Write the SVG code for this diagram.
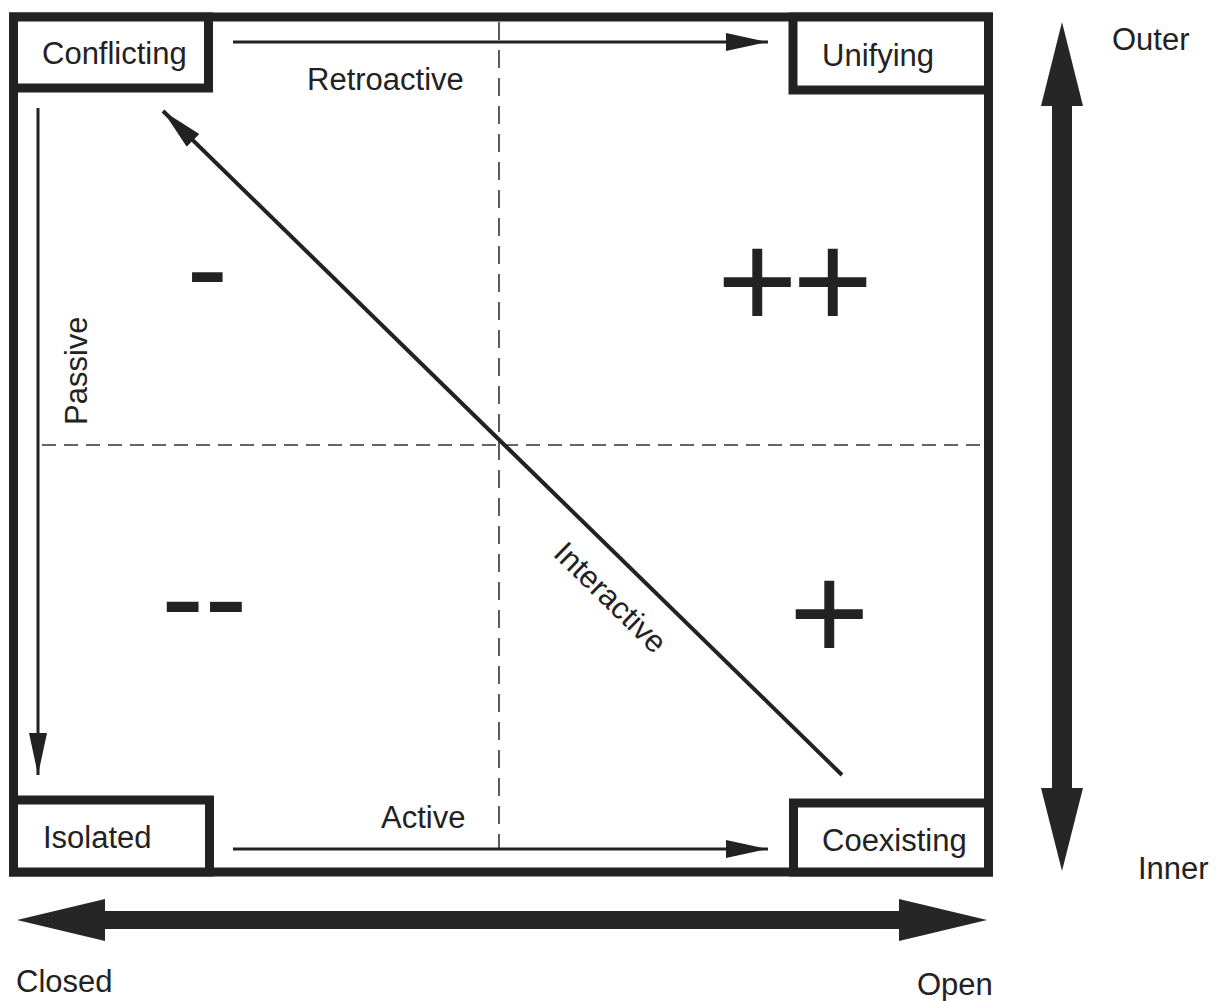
<svg xmlns="http://www.w3.org/2000/svg" width="1216" height="1001" viewBox="0 0 1216 1001">
<defs>
<style>
.box{fill:#fff;stroke:#222;stroke-width:9}
.frame{fill:none;stroke:#222;stroke-width:9}
.lbl{font-family:"Liberation Sans",Arial,sans-serif;font-size:31px;fill:#222}
.sym{font-family:"Liberation Sans",Arial,sans-serif;fill:#222}
.thin{stroke:#222;stroke-width:3;fill:none}
.diag{stroke:#222;stroke-width:4;fill:none}
.dash{stroke:#333;stroke-width:1.6;fill:none}
.big{fill:#262626}
</style>
<marker id="ah" markerUnits="userSpaceOnUse" markerWidth="44" markerHeight="20" refX="42" refY="10" orient="auto">
<path d="M0,1 L42,10 L0,19 Z" fill="#222"/>
</marker>
</defs>
<rect width="1216" height="1001" fill="#fff"/>
<g id="frame">
<rect class="frame" x="13.5" y="17" width="975" height="855"/>
</g>
<g id="quadrant-lines">
<line class="dash" x1="499" y1="22" x2="499" y2="848" stroke-dasharray="18,10"/>
<line class="dash" x1="42" y1="445" x2="984" y2="445" stroke-dasharray="14,8"/>
</g>
<g id="node-conflicting">
<rect class="box" x="13.5" y="17" width="195" height="71"/>
<text class="lbl" x="42" y="64">Conflicting</text>
</g>
<g id="node-unifying">
<rect class="box" x="793" y="17" width="195.5" height="73"/>
<text class="lbl" x="822" y="66">Unifying</text>
</g>
<g id="node-isolated">
<rect class="box" x="13.5" y="800" width="196" height="72"/>
<text class="lbl" x="43" y="848">Isolated</text>
</g>
<g id="node-coexisting">
<rect class="box" x="793.5" y="803" width="195" height="69"/>
<text class="lbl" x="822" y="851">Coexisting</text>
</g>
<g id="connectors">
<line class="thin" x1="233" y1="42" x2="768" y2="42" marker-end="url(#ah)"/>
<line class="thin" x1="233" y1="849" x2="768" y2="849" marker-end="url(#ah)"/>
<line class="thin" x1="38" y1="108" x2="38" y2="775" marker-end="url(#ah)"/>
<line class="diag" x1="842" y1="775" x2="163" y2="111" marker-end="url(#ah)"/>
<polygon class="big" points="17,920 105,899 105,911 899,911 899,899 987,920 899,941 899,929 105,929 105,941"/>
<polygon class="big" points="1062,22 1083,106 1072,106 1072,788 1083,788 1062,871 1041,788 1052,788 1052,106 1041,106"/>
</g>
<g id="labels">
<text class="lbl" x="307" y="90">Retroactive</text>
<text class="lbl" x="381" y="828">Active</text>
<text class="lbl" transform="translate(87,425) rotate(-90)">Passive</text>
<text class="lbl" text-anchor="middle" transform="translate(603,605) rotate(44.4)">Interactive</text>
<text class="lbl" x="1112" y="50">Outer</text>
<text class="lbl" x="1138" y="879">Inner</text>
<text class="lbl" x="16" y="992">Closed</text>
<text class="lbl" x="917" y="995">Open</text>
</g>
<g id="quadrant-signs">
<text class="sym" x="186.5" y="310" font-size="125">-</text>
<text class="sym" x="717" y="328" font-size="138" letter-spacing="-5">++</text>
<text class="sym" x="161" y="641" font-size="130">--</text>
<text class="sym" x="789" y="660" font-size="138">+</text>
</g>
</svg>
